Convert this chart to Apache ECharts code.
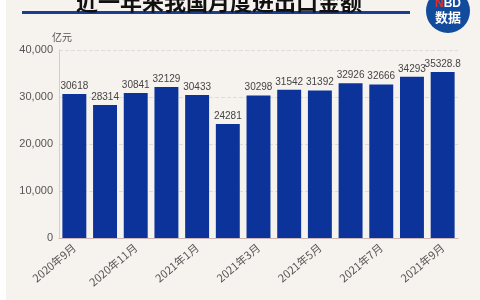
<!DOCTYPE html>
<html><head><meta charset="utf-8">
<script src="https://cdn.jsdelivr.net/npm/echarts@6/dist/echarts.min.js"></script>
<style>html,body{margin:0;padding:0;background:#fff}#c{width:480px;height:300px}</style>
</head><body><div id="c"></div>
<script>
const categories = ['2020年9月','2020年10月','2020年11月','2020年12月','2021年1月','2021年2月','2021年3月','2021年4月','2021年5月','2021年6月','2021年7月','2021年8月','2021年9月'];
const values = [30618, 28314, 30841, 32129, 30433, 24281, 30298, 31542, 31392, 32926, 32666, 34293, 35328.8];
const valueLabels = ['30618','28314','30841','32129','30433','24281','30298','31542','31392','32926','32666','34293','35328.8'];
const yTicks = [0, 10000, 20000, 30000, 40000];
const titleText = '近一年来我国月度进出口金额';
const unitText = '亿元';

const chart = echarts.init(document.getElementById('c'), null, {renderer:'canvas'});
chart.setOption({
  backgroundColor: '#fff',
  animation: false,
  graphic: [
    {type:'rect', left:6, top:0, shape:{width:474, height:300}, style:{fill:'#f6f3ef'}, z:-10},
    {type:'rect', left:22, top:11, shape:{width:388, height:3}, style:{fill:'#1a3d8f'}},
    {type:'circle', left:426, top:-11, shape:{r:22}, style:{fill:'#124a9c'}},
    {type:'text', x:448, y:-2, style:{text:'{n|N}{b|BD}', align:'center', verticalAlign:'top',
      rich:{n:{fill:'#e0302a', font:'bold 12px "Liberation Sans", sans-serif'}, b:{fill:'#fff', font:'bold 12px "Liberation Sans", sans-serif'}}}},
    {type:'text', x:448, y:11, style:{text:'数据', align:'center', verticalAlign:'top', fill:'#fff', font:'bold 13px "Noto Sans CJK SC", sans-serif'}},
    {type:'text', left:52, top:32, style:{text:unitText, fill:'#555', font:'10px "Noto Sans CJK SC", sans-serif'}}
  ],
  title: {
    text: titleText, left: 214, textAlign:'center', top: -14,
    textStyle: {fontSize: 22, fontWeight: 'bold', color: '#111', fontFamily: '"Noto Sans CJK SC", sans-serif'}
  },
  grid: {left: 59, right: 22, top: 50, bottom: 62},
  xAxis: {
    type: 'category', data: categories,
    axisLine: {lineStyle: {color: '#cbb8b8'}},
    axisTick: {show: false},
    axisLabel: {interval: 1, rotate: 40, color: '#555', fontSize: 11, margin: 8, fontFamily: '"Noto Sans CJK SC", sans-serif'}
  },
  yAxis: {
    type: 'value', min: yTicks[0], max: yTicks[yTicks.length-1], interval: 10000,
    axisLine: {show: true, lineStyle: {color: '#cfcfcf'}},
    axisTick: {show: false},
    axisLabel: {color: '#555', fontSize: 11, margin: 6, fontFamily: '"Liberation Sans", sans-serif',
      formatter: v => v === 0 ? '0' : v.toLocaleString('en-US')},
    splitLine: {lineStyle: {color: '#dcdcdc', type: 'dashed'}}
  },
  series: [{
    type: 'bar', data: values, barCategoryGap: '22%',
    itemStyle: {color: '#0c3399'},
    label: {show: true, position: 'top', distance: 3, color: '#444', fontSize: 10,
      fontFamily: '"Liberation Sans", sans-serif',
      formatter: p => valueLabels[p.dataIndex]}
  }]
});
</script></body></html>
